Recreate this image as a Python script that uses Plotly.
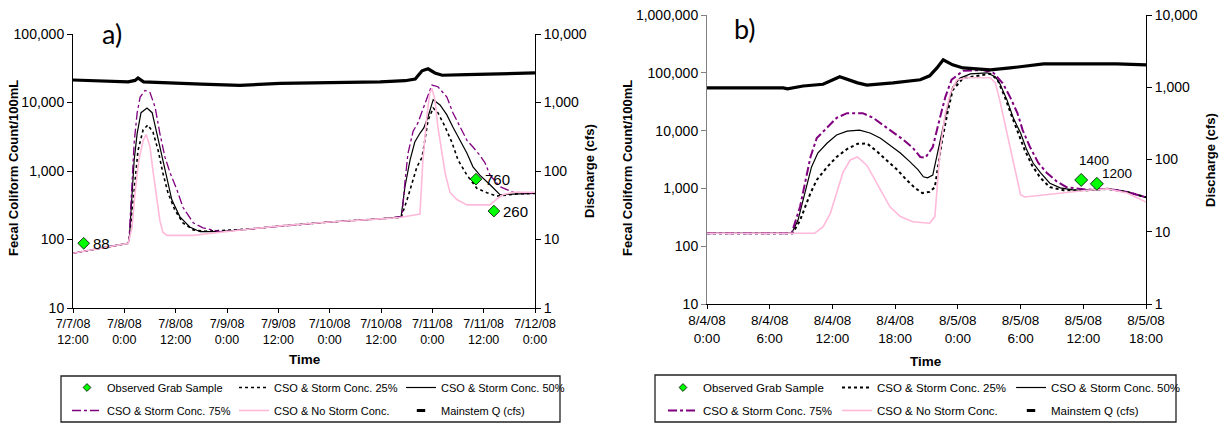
import math
import pandas as pd
import plotly.graph_objects as go

# ---------------- Panel a: 7/7/08 12:00 to 7/12/08 0:00 ----------------
A_START = "2008-07-07 12:00"
a_tick_h = [0, 12, 24, 36, 48, 60, 72, 84, 96, 108]
a_tick_text = ["7/7/08<br>12:00", "7/8/08<br>0:00", "7/8/08<br>12:00", "7/9/08<br>0:00",
               "7/9/08<br>12:00", "7/10/08<br>0:00", "7/10/08<br>12:00", "7/11/08<br>0:00",
               "7/11/08<br>12:00", "7/12/08<br>0:00"]

a_obs_h = [2.5, 94.2, 98.4]
a_obs = [88, 760, 260]

a_c25_h = [0, 12.9, 13.3, 14.0, 14.5, 15.2, 16.4, 17.5, 18.7, 19.9, 21.0, 22.2, 23.8, 25.7,
           28.1, 31.0, 41.4, 48.4, 60, 71.8, 76.7, 78.1, 79.2, 80.4, 81.6, 82.3, 83.0, 84.2,
           85.3, 87.0, 88.6, 90.0, 92.1, 94.4, 96.8, 99.1, 101.5, 104, 108]
a_c25 = [63, 88, 120, 340, 810, 2000, 4000, 4700, 3700, 2000, 940, 480, 270, 175,
         138, 132, 142, 158, 180, 200, 210, 380, 660, 1150, 1590, 2800, 5500, 8300,
         7100, 4400, 2600, 1450, 870, 560, 480, 430, 450, 465, 470]

a_c50_h = [0, 12.9, 13.2, 13.8, 14.3, 15.0, 15.9, 17.3, 18.5, 19.6, 20.8, 22.0, 23.1, 25.0,
           27.3, 29.7, 34.4, 41.4, 48.4, 60, 71.8, 76.7, 77.6, 78.8, 79.9, 81.1, 82.0, 83.0,
           84.2, 85.8, 87.4, 88.8, 90.5, 92.1, 93.5, 95.1, 97.5, 99.8, 102.9, 108]
a_c50 = [63, 88, 110, 480, 1450, 3550, 7100, 8300, 7100, 3550, 1590, 740, 380, 214,
         152, 130, 130, 142, 158, 180, 200, 215, 590, 1450, 2650, 3550, 4250, 6200,
         11000, 9200, 6600, 4400, 2800, 1820, 1150, 870, 630, 450, 460, 470]

a_c75_h = [0, 12.9, 13.1, 13.8, 14.3, 15.0, 15.7, 16.8, 18.0, 19.2, 20.3, 21.5, 22.7, 24.3,
           25.7, 28.1, 30.4, 34.4, 41.4, 48.4, 60, 71.8, 76.9, 77.6, 78.3, 79.5, 80.6, 81.8,
           83.0, 83.9, 85.3, 87.4, 88.8, 90.5, 92.1, 93.5, 95.1, 96.3, 97.5, 99.8, 102.9, 108]
a_c75 = [63, 88, 100, 810, 2600, 7100, 12000, 15000, 14000, 8500, 3550, 1590, 940, 530,
         295, 175, 148, 130, 142, 158, 180, 200, 215, 700, 1800, 3800, 5000, 8000,
         13000, 18000, 17000, 12000, 7100, 4400, 2800, 2240, 1700, 1320, 870, 590, 490, 470]

a_ns_h = [0, 12.9, 13.8, 14.5, 15.4, 16.4, 17.1, 18.0, 18.7, 19.6, 20.3, 21.0, 22.0, 28.0,
          35.5, 41.4, 48.4, 60, 71.8, 76.4, 81.1, 81.8, 82.7, 83.4, 83.9, 84.6, 85.3, 86.3,
          87.0, 88.1, 89.8, 92.1, 97.5, 99.3, 100.5, 102.9, 108]
a_ns = [63, 88, 150, 480, 1450, 2800, 3400, 2250, 1000, 380, 190, 128, 115, 115,
        128, 142, 158, 180, 200, 210, 235, 1450, 6200, 13800, 16000, 11000, 4400, 1800,
        930, 490, 380, 320, 320, 400, 450, 490, 490]

a_q_h = [0, 8.6, 12.9, 14.5, 15.2, 16.5, 20, 30, 39, 48.4, 60, 71.8, 77.6, 80.0, 81.6,
         83.0, 84.6, 86.3, 92, 100, 108]
a_q = [2130, 2050, 2000, 2100, 2280, 2000, 1950, 1850, 1780, 1900, 1950, 2000, 2080, 2200,
       2900, 3100, 2700, 2500, 2550, 2650, 2700]

# ---------------- Panel b: 8/4/08 0:00 to 8/5/08 18:00 ----------------
B_START = "2008-08-04 00:00"
b_tick_h = [0, 6, 12, 18, 24, 30, 36, 42]
b_tick_text = ["8/4/08<br>0:00", "8/4/08<br>6:00", "8/4/08<br>12:00", "8/4/08<br>18:00",
               "8/5/08<br>0:00", "8/5/08<br>6:00", "8/5/08<br>12:00", "8/5/08<br>18:00"]

b_obs_h = [35.8, 37.3]
b_obs = [1400, 1200]

b_c25_h = [0, 8.2, 8.9, 9.4, 9.9, 10.5, 11.5, 12.4, 13.4, 14.4, 15.3, 16.3, 17.2, 18.2,
           19.1, 19.9, 20.6, 21.3, 21.8, 22.1, 22.5, 23.0, 23.5, 24.5, 26.1, 27.1, 27.8,
           28.5, 29.2, 29.8, 30.4, 31.1, 31.9, 32.8, 34.1, 36.4, 38.3, 40.2, 42]
b_c25 = [168, 168, 280, 480, 830, 1400, 2350, 3500, 4800, 5900, 6000, 4300, 3100, 2100,
         1400, 1020, 830, 870, 1050, 2300, 6900, 20000, 50000, 81000, 91000, 96000, 76000,
         38000, 17000, 9100, 4600, 2500, 1520, 1050, 930, 930, 980, 870, 700]

b_c50_h = [0, 8.1, 8.7, 9.2, 9.6, 10.0, 10.6, 11.5, 12.4, 13.4, 14.6, 15.6, 16.6, 17.5,
           18.5, 19.4, 20.2, 20.7, 21.1, 21.6, 22.1, 22.5, 23.0, 23.5, 24.2, 25.2, 26.8,
           27.6, 28.0, 28.7, 29.3, 30.0, 30.6, 31.2, 31.9, 32.8, 33.8, 35.0, 36.4, 38.3,
           40.2, 42]
b_c50 = [168, 168, 280, 630, 1230, 2350, 4100, 6100, 8400, 9800, 10200, 9100, 7400, 5600,
         4100, 2900, 2100, 1590, 1520, 1700, 4600, 10200, 25500, 56000, 81000, 96000, 100000,
         85000, 66000, 34000, 16600, 9100, 4600, 2750, 1870, 1230, 1020, 940, 930, 980,
         870, 700]

b_c75_h = [0, 8.1, 8.9, 9.4, 9.9, 10.5, 11.5, 12.4, 13.4, 14.9, 15.9, 16.8, 17.8, 18.8,
           19.7, 20.4, 20.9, 21.6, 22.3, 22.8, 23.4, 24.5, 26.4, 27.4, 28.3, 29.0, 29.7,
           30.2, 30.9, 31.7, 32.5, 33.5, 34.4, 35.7, 36.4, 38.3, 40.2, 42]
b_c75 = [168, 168, 480, 1230, 3500, 7400, 11500, 16600, 20000, 20000, 16600, 12600, 9600,
         6900, 5000, 3500, 3400, 5200, 17000, 38000, 76000, 108000, 112000, 100000, 66000,
         38000, 20000, 10200, 5200, 2750, 1870, 1300, 1050, 980, 950, 985, 870, 700]

b_ns_h = [0, 10.3, 11.1, 11.8, 12.4, 13.0, 13.7, 14.4, 15.3, 15.9, 16.7, 17.5, 18.5, 19.7,
          21.3, 21.8, 22.0, 22.3, 22.8, 23.3, 23.9, 24.9, 27.1, 27.6, 28.0, 28.5, 29.0,
          29.5, 30.0, 30.4, 33.1, 36.4, 38.3, 40.2, 42]
b_ns = [168, 168, 215, 370, 830, 1870, 3100, 3500, 2500, 1590, 830, 480, 325, 265,
        250, 325, 930, 4600, 20000, 45000, 75000, 82000, 82000, 66000, 34000, 13500, 5200,
        1870, 780, 710, 800, 930, 980, 830, 580]

b_q_h = [0, 7.3, 7.7, 9.2, 11.1, 12.7, 14.4, 15.3, 17.8, 20.4, 21.3, 22.0, 22.6, 23.5,
         24.5, 27.1, 29.0, 32.2, 39.2, 42]
b_q = [980, 980, 950, 1040, 1100, 1400, 1150, 1070, 1150, 1270, 1440, 1850, 2400, 2040,
       1850, 1740, 1850, 2100, 2100, 2040]

conc_ticks = [10, 100, 1000, 10000, 100000, 1000000]
flow_ticks = [1, 10, 100, 1000, 10000]

LABELS = ["Observed Grab Sample", "CSO & Storm Conc. 25%", "CSO & Storm Conc. 50%",
          "CSO & Storm Conc. 75%", "CSO & No Storm Conc.", "Mainstem Q (cfs)"]

PINK = "#FFBADB"
PURPLE = "#800080"
GREEN = "#00FF00"
FONT = "Arial, Liberation Sans, sans-serif"

W, H = 1225, 426


def hx(start, hours):
    return list(pd.Timestamp(start) + pd.to_timedelta(hours, unit="h"))


def fmt(v):
    return f"{v:,}"


fig = go.Figure()


def add_panel(start, xa, ya, ya2, obs_h, obs, c25_h, c25, c50_h, c50, c75_h, c75,
              ns_h, ns, q_h, q, leg1, leg2, wide):
    w_dot = 2.0 if wide else 1.6
    w_dd = 2.0 if wide else 1.3
    # legend-only entries for the grab sample and flow symbols
    fig.add_trace(go.Scatter(x=[None], y=[None], mode="markers", name=LABELS[0],
                             legend=leg1, legendgroup=leg1 + "obs",
                             marker=dict(symbol="diamond", size=6, color=GREEN,
                                         line=dict(color="black", width=0.8)),
                             xaxis=xa, yaxis=ya))
    fig.add_trace(go.Scatter(x=hx(start, c25_h), y=c25, mode="lines", name=LABELS[1],
                             legend=leg1, line=dict(color="black", width=w_dot, dash="dot"),
                             xaxis=xa, yaxis=ya))
    fig.add_trace(go.Scatter(x=hx(start, c50_h), y=c50, mode="lines", name=LABELS[2],
                             legend=leg1, line=dict(color="black", width=1.2),
                             xaxis=xa, yaxis=ya))
    fig.add_trace(go.Scatter(x=hx(start, c75_h), y=c75, mode="lines", name=LABELS[3],
                             legend=leg2, line=dict(color=PURPLE, width=w_dd, dash="dashdot"),
                             xaxis=xa, yaxis=ya))
    fig.add_trace(go.Scatter(x=hx(start, ns_h), y=ns, mode="lines", name=LABELS[4],
                             legend=leg2, line=dict(color=PINK, width=1.6),
                             xaxis=xa, yaxis=ya))
    fig.add_trace(go.Scatter(x=[None], y=[None], mode="markers", name=LABELS[5],
                             legend=leg2, legendgroup=leg2 + "q",
                             marker=dict(symbol="line-ew", size=6,
                                         line=dict(color="black", width=3)),
                             xaxis=xa, yaxis=ya))
    fig.add_trace(go.Scatter(x=hx(start, q_h), y=q, mode="lines", name=LABELS[5],
                             showlegend=False, legendgroup=leg2 + "q",
                             line=dict(color="black", width=3.2),
                             xaxis=xa, yaxis=ya2))
    fig.add_trace(go.Scatter(x=hx(start, obs_h), y=obs, mode="markers", name=LABELS[0],
                             showlegend=False, legendgroup=leg1 + "obs",
                             marker=dict(symbol="diamond", size=10 if wide else 9,
                                         color=GREEN, line=dict(color="black", width=0.8)),
                             xaxis=xa, yaxis=ya))


add_panel(A_START, "x", "y", "y2", a_obs_h, a_obs, a_c25_h, a_c25, a_c50_h, a_c50,
          a_c75_h, a_c75, a_ns_h, a_ns, a_q_h, a_q, "legend", "legend2", False)
add_panel(B_START, "x2", "y3", "y4", b_obs_h, b_obs, b_c25_h, b_c25, b_c50_h, b_c50,
          b_c75_h, b_c75, b_ns_h, b_ns, b_q_h, b_q, "legend3", "legend4", True)


def px_x(p):
    return p / W


def px_y(p):
    return (H - p) / H


tick_font_y = dict(family=FONT, size=14, color="black")
common = dict(showgrid=False, zeroline=False, showline=True, linecolor="black",
              linewidth=1, ticks="outside", tickcolor="black", automargin=False)

fig.update_layout(
    width=W, height=H, margin=dict(l=0, r=0, t=0, b=0),
    paper_bgcolor="white", plot_bgcolor="white",
    font=dict(family=FONT, color="black"),
    xaxis=dict(domain=[px_x(73), px_x(535)], anchor="y", type="date",
               range=hx(A_START, [0, 108]), tickvals=hx(A_START, a_tick_h),
               ticktext=a_tick_text, ticklen=4, tickfont=dict(family=FONT, size=12.5),
               **common),
    yaxis=dict(domain=[px_y(308), px_y(34)], anchor="x", type="log", range=[1, 5],
               tickvals=conc_ticks[:5], ticktext=[fmt(v) for v in conc_ticks[:5]],
               ticklen=5, tickfont=tick_font_y, **common),
    yaxis2=dict(overlaying="y", side="right", anchor="x", type="log", range=[0, 4],
                tickvals=flow_ticks, ticktext=[fmt(v) for v in flow_ticks],
                ticklen=5, tickfont=tick_font_y, **common),
    xaxis2=dict(domain=[px_x(707), px_x(1146)], anchor="y3", type="date",
                range=hx(B_START, [0, 42]), tickvals=hx(B_START, b_tick_h),
                ticktext=b_tick_text, ticklen=4, tickfont=dict(family=FONT, size=13.5),
                **common),
    yaxis3=dict(domain=[px_y(304), px_y(15)], anchor="x2", type="log", range=[1, 6],
                tickvals=conc_ticks, ticktext=[fmt(v) for v in conc_ticks],
                ticklen=5, tickfont=tick_font_y,
                **{**common, "linecolor": "#808080", "tickcolor": "#808080"}),
    yaxis4=dict(overlaying="y3", side="right", anchor="x2", type="log", range=[0, 4],
                tickvals=flow_ticks, ticktext=[fmt(v) for v in flow_ticks],
                ticklen=5, tickfont=tick_font_y, **common),
)

leg_common = dict(orientation="h", xanchor="left", yanchor="top", bgcolor="rgba(0,0,0,0)",
                  borderwidth=0, tracegroupgap=0)
leg_font_a = dict(family=FONT, size=11, color="black")
leg_font_b = dict(family=FONT, size=11.5, color="black")
fig.update_layout(
    legend=dict(x=px_x(67), y=px_y(373), entrywidth=122, font=leg_font_a, **leg_common),
    legend2=dict(x=px_x(67), y=px_y(396), entrywidth=122, font=leg_font_a, **leg_common),
    legend3=dict(x=px_x(663), y=px_y(373), entrywidth=129, font=leg_font_b, **leg_common),
    legend4=dict(x=px_x(663), y=px_y(396), entrywidth=129, font=leg_font_b, **leg_common),
)

# legend frames
for x0, x1, y0, y1 in [(61, 560, 376, 422), (655, 1176, 375, 422)]:
    fig.add_shape(type="rect", xref="paper", yref="paper",
                  x0=px_x(x0), x1=px_x(x1), y0=px_y(y1), y1=px_y(y0),
                  line=dict(color="#222222", width=1.3), fillcolor="rgba(0,0,0,0)")

# value labels beside the grab samples (log axes take log10 positions)
for h, v in zip(a_obs_h, a_obs):
    fig.add_annotation(x=hx(A_START, [h])[0], y=math.log10(v), xref="x", yref="y",
                       text=str(v), showarrow=False, xanchor="left", xshift=7,
                       font=dict(family=FONT, size=15, color="black"))
b_shift = [(13, 19), (20, 10)]
for (h, v), (dx, dy) in zip(zip(b_obs_h, b_obs), b_shift):
    fig.add_annotation(x=hx(B_START, [h])[0], y=math.log10(v), xref="x2", yref="y3",
                       text=str(v), showarrow=False, xshift=dx, yshift=dy,
                       font=dict(family=FONT, size=13.5, color="black"))

# panel letters and axis titles
title_font = dict(family=FONT, size=13, color="black")
texts = [
    ("a)", 112, 33, 0, dict(family="Lato, Open Sans, sans-serif", size=27, color="black")),
    ("b)", 745, 29, 0, dict(family="Lato, Open Sans, sans-serif", size=27, color="black")),
    ("<b>Fecal Coliform Count/100mL</b>", 13, 168, -90, title_font),
    ("<b>Fecal Coliform Count/100mL</b>", 627, 168, -90, title_font),
    ("<b>Discharge (cfs)</b>", 589, 171, -90, title_font),
    ("<b>Discharge (cfs)</b>", 1210, 160, -90, title_font),
    ("<b>Time</b>", 305, 359, 0, dict(family=FONT, size=13.5, color="black")),
    ("<b>Time</b>", 926, 361, 0, dict(family=FONT, size=13.5, color="black")),
]
for t, x, y, ang, f in texts:
    fig.add_annotation(x=px_x(x), y=px_y(y), xref="paper", yref="paper", text=t,
                       showarrow=False, textangle=ang, font=f,
                       xanchor="center", yanchor="middle")

fig.write_html("out.html")
